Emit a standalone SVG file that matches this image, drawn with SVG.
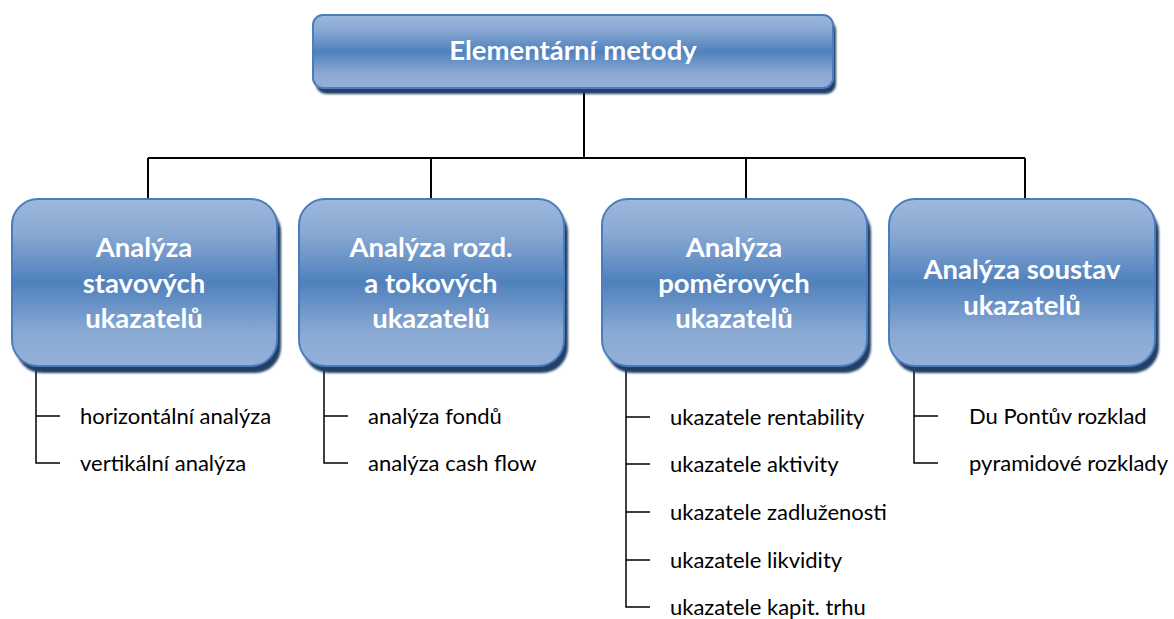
<svg xmlns="http://www.w3.org/2000/svg" width="1174" height="619" viewBox="0 0 1174 619">
<defs>
<linearGradient id="g" x1="0" y1="0" x2="0" y2="1">
<stop offset="0" stop-color="#9db8dc"/>
<stop offset="0.2" stop-color="#8aa9d3"/>
<stop offset="0.5" stop-color="#4f81bd"/>
<stop offset="0.8" stop-color="#8aa9d3"/>
<stop offset="1" stop-color="#93b0d8"/>
</linearGradient>
<filter id="blur" x="-5%" y="-5%" width="110%" height="115%"><feGaussianBlur stdDeviation="0.8"/></filter>
</defs>
<style>
.shadow{fill:#243f66;filter:url(#blur)}
.box{fill:url(#g);stroke:#4a7dbd;stroke-width:2}
.title{font-family:"Lato","Liberation Sans",sans-serif;font-weight:bold;font-size:27.5px;fill:#ffffff;text-anchor:middle}
.item{font-family:"Lato","Liberation Sans",sans-serif;font-size:22px;fill:#000000}
.conn{stroke:#000;stroke-width:2;fill:none}
.sub{stroke:#000;stroke-width:1.5;fill:none}
</style>
<rect width="1174" height="619" fill="#ffffff"/>
<g id="connectors">
<path class="conn" d="M584 88V158M148 158H1025M148 158V199M431 158V199M746 158V199M1025 158V199"/>
<path class="sub" d="M36 366V463H60M36 416H60"/>
<path class="sub" d="M324 366V463H348M324 416H348"/>
<path class="sub" d="M626 366V607H650M626 417H650M626 464H650M626 512H650M626 560H650"/>
<path class="sub" d="M914 366V463H938M914 416H938"/>
</g>
<g id="root">
<rect class="shadow" x="316" y="20" width="520" height="74" rx="10"/>
<rect class="box" x="313" y="15" width="520" height="73" rx="10"/>
<text class="title" x="573" y="60">Elementární metody</text>
</g>
<g id="n1">
<rect class="shadow" x="16" y="206" width="265" height="167" rx="26"/>
<rect class="box" x="12" y="199" width="265" height="167" rx="26"/>
<text class="title" x="144" y="257">Analýza</text>
<text class="title" x="144" y="293">stavových</text>
<text class="title" x="144" y="328">ukazatelů</text>
</g>
<g id="n2">
<rect class="shadow" x="303" y="206" width="265" height="167" rx="26"/>
<rect class="box" x="299" y="199" width="265" height="167" rx="26"/>
<text class="title" x="431" y="257">Analýza rozd.</text>
<text class="title" x="431" y="293">a tokových</text>
<text class="title" x="431" y="328">ukazatelů</text>
</g>
<g id="n3">
<rect class="shadow" x="606" y="206" width="265" height="167" rx="26"/>
<rect class="box" x="602" y="199" width="265" height="167" rx="26"/>
<text class="title" x="734" y="257">Analýza</text>
<text class="title" x="734" y="293">poměrových</text>
<text class="title" x="734" y="328">ukazatelů</text>
</g>
<g id="n4">
<rect class="shadow" x="893" y="206" width="266" height="167" rx="26"/>
<rect class="box" x="889" y="199" width="266" height="167" rx="26"/>
<text class="title" x="1022" y="279">Analýza soustav</text>
<text class="title" x="1022" y="315">ukazatelů</text>
</g>
<g id="items1">
<text class="item" x="80" y="424">horizontální analýza</text>
<text class="item" x="80" y="471">vertikální analýza</text>
</g>
<g id="items2">
<text class="item" x="368" y="424">analýza fondů</text>
<text class="item" x="368" y="471">analýza cash flow</text>
</g>
<g id="items3">
<text class="item" x="670" y="425">ukazatele rentability</text>
<text class="item" x="670" y="472">ukazatele aktivity</text>
<text class="item" x="670" y="520">ukazatele zadluženosti</text>
<text class="item" x="670" y="568">ukazatele likvidity</text>
<text class="item" x="670" y="615">ukazatele kapit. trhu</text>
</g>
<g id="items4">
<text class="item" x="969" y="424">Du Pontův rozklad</text>
<text class="item" x="969" y="471">pyramidové rozklady</text>
</g>
</svg>
